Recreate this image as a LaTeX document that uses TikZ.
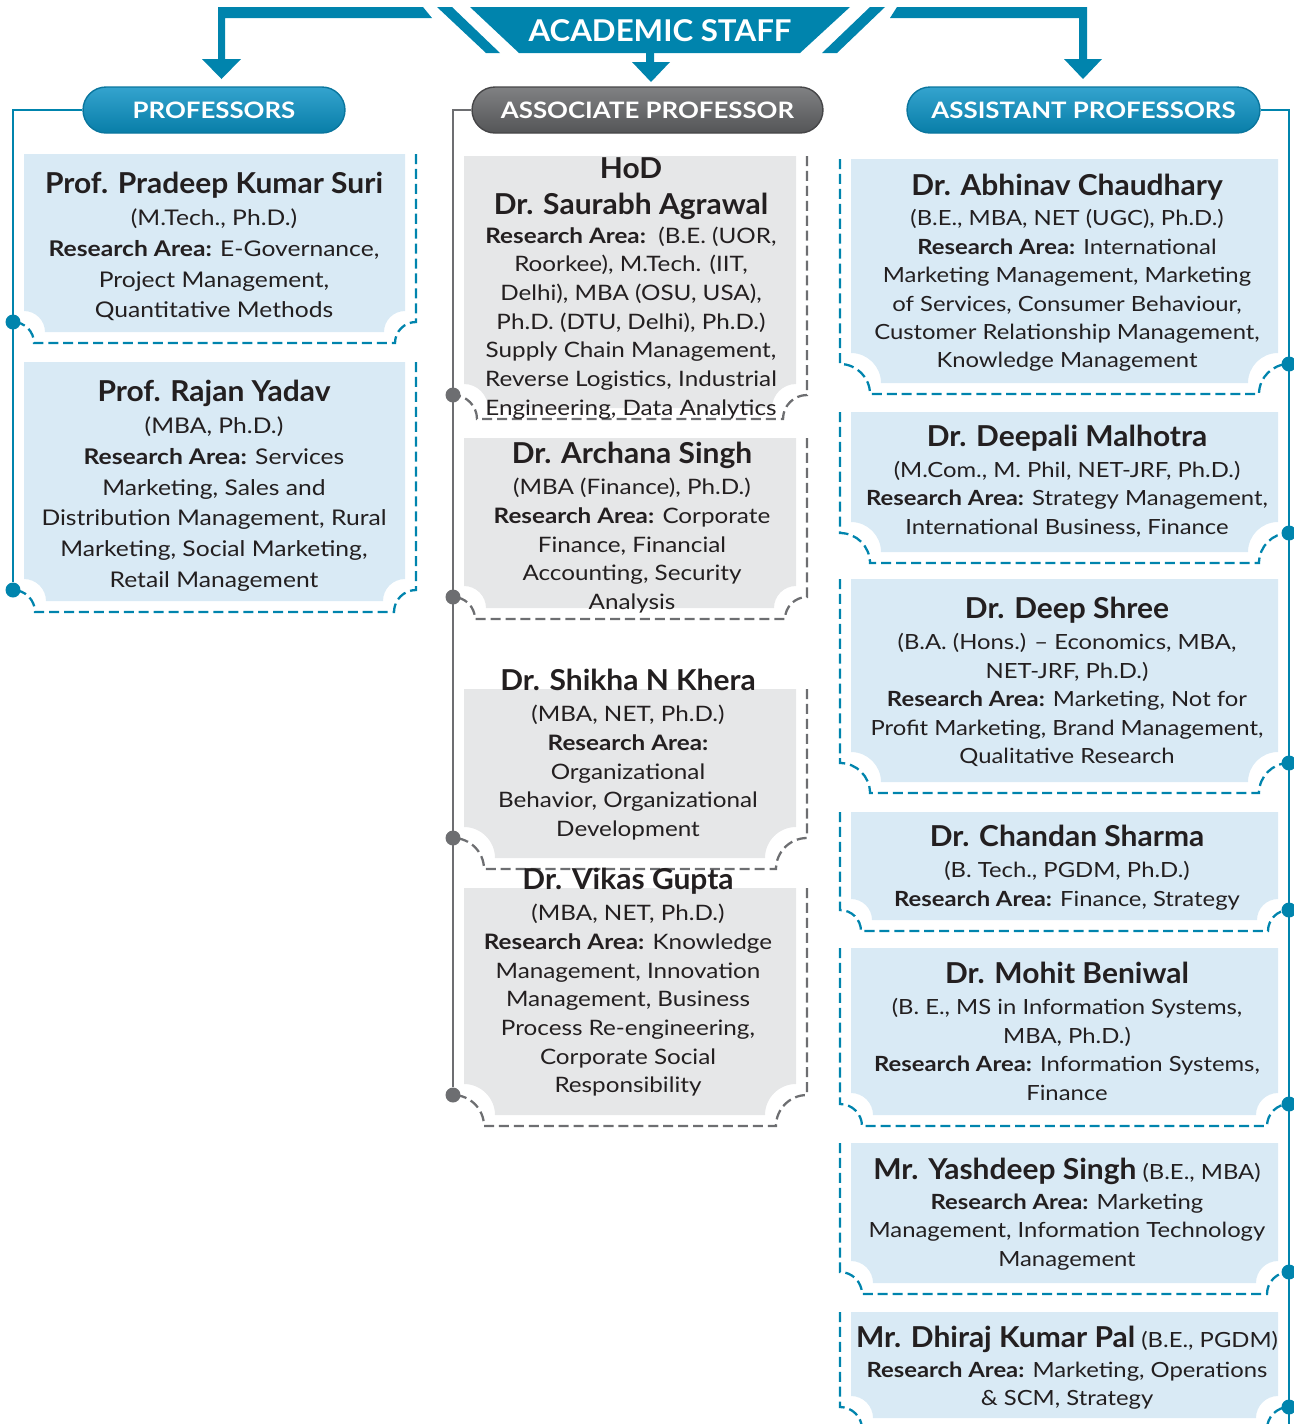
\documentclass[tikz,border=0pt]{standalone}
\usepackage{fontspec}
\setmainfont{Lato}[UprightFeatures={FakeStretch=1.14}, BoldFeatures={FakeStretch=1.14}]
\newfontfamily\namefam{Lato}[UprightFeatures={FakeStretch=1.04}, BoldFeatures={FakeStretch=1.04}]
\usetikzlibrary{positioning}

\definecolor{staffteal}{RGB}{0,132,173}
\definecolor{staffblue}{RGB}{217,234,245}
\definecolor{staffgrey}{RGB}{230,231,232}
\definecolor{staffdark}{RGB}{109,110,113}
\definecolor{stafftext}{RGB}{35,31,32}

\newcommand{\who}[1]{{\namefam\fontsize{16.4}{19}\selectfont\bfseries #1}}
\newcommand{\ra}{\textbf{Research Area:}}

% card background with the two round notches at the bottom
\newcommand{\cardbg}[5]{%
  \fill[cardfill] (#1,#2) -- (#3,#2) -- (#3,{#4-#5})
    .. controls ({#3-0.55*#5},{#4-#5}) and ({#3-#5},{#4-0.55*#5}) .. ({#3-#5},#4)
    -- ({#1+#5},#4)
    .. controls ({#1+#5},{#4-0.55*#5}) and ({#1+0.55*#5},{#4-#5}) .. (#1,{#4-#5}) -- cycle;
}
% card, dot on the left
\newcommand{\lcard}[6]{%
  \cardbg{#2}{#3}{#4}{#5}{#6}
  \draw[cardline] ({#4+11},#3) -- ({#4+11},{#5+11-#6})
    .. controls ({#4+11-0.55*#6},{#5+11-#6}) and ({#4+11-#6},{#5+11-0.55*#6}) .. ({#4+11-#6},{#5+11})
    -- ({#2-11+#6},{#5+11})
    .. controls ({#2-11+#6},{#5+11-0.55*#6}) and ({#2-11+0.55*#6},{#5+11-#6}) .. ({#2-11},{#5+11-#6});
  \node[knob] (#1) at ({#2-11},{#5+11-#6}) {};
}
% card, dot on the right
\newcommand{\rcard}[6]{%
  \cardbg{#2}{#3}{#4}{#5}{#6}
  \draw[cardline] ({#2-11},#3) -- ({#2-11},{#5+11-#6})
    .. controls ({#2-11+0.55*#6},{#5+11-#6}) and ({#2-11+#6},{#5+11-0.55*#6}) .. ({#2-11+#6},{#5+11})
    -- ({#4+11-#6},{#5+11})
    .. controls ({#4+11-#6},{#5+11-0.55*#6}) and ({#4+11-0.55*#6},{#5+11-#6}) .. ({#4+11},{#5+11-#6});
  \node[knob] (#1) at ({#4+11},{#5+11-#6}) {};
}

\tikzset{
  pill/.style={rounded corners=0.46cm, minimum height=0.92cm, inner sep=0pt,
    text=white, font=\fontsize{12.9}{14}\selectfont\bfseries, line width=0.8pt},
  bluepill/.style={pill, top color={rgb,255:red,52;green,163;blue,206},
    bottom color={rgb,255:red,8;green,126;blue,168}, draw={rgb,255:red,10;green,118;blue,158}},
  greypill/.style={pill, top color={rgb,255:red,128;green,129;blue,131},
    bottom color={rgb,255:red,84;green,85;blue,87}, draw={rgb,255:red,70;green,70;blue,72}},
  cardtxt/.style={anchor=north, align=center, inner sep=0pt, text=stafftext},
  leftcol/.style={font=\fontsize{12.3}{17.5}\selectfont},
  midcol/.style={font=\fontsize{12.1}{16.3}\selectfont},
  rightcol/.style={font=\fontsize{11.9}{16.2}\selectfont},
  knob/.style={circle, inner sep=0pt, minimum size=0.3cm},
  tealline/.style={draw=staffteal, line width=1.4pt},
  greyline/.style={draw=staffdark, line width=1.6pt},
}

\begin{document}
\begin{tikzpicture}[x=0.02cm, y=-0.02cm]
\useasboundingbox (0,0) rectangle (1294,1424);

% header banner
\begin{scope}[fill=staffteal]
  \fill (218,7) -- (423,7) -- (432,18) -- (225,18) -- (225,59) -- (241,59)
    -- (221.5,79) -- (202,59) -- (218,59) -- cycle;
  \fill (437,7) -- (452,7) -- (500,53) -- (486,53) -- cycle;
  \fill (470,7) -- (850,7) -- (800,53) -- (519,53) -- cycle;
  \fill (646,53) -- (654,53) -- (654,62) -- (670,62) -- (651,82) -- (632,62)
    -- (646,62) -- cycle;
  \fill (870,7) -- (885,7) -- (837,53) -- (822,53) -- cycle;
  \fill (897,7) -- (1087,7) -- (1087,59) -- (1102,59) -- (1083,79) -- (1064,59)
    -- (1079,59) -- (1079,18) -- (890,18) -- cycle;
\end{scope}
\node[font=\namefam\fontsize{17.1}{19}\selectfont\bfseries, text=white] (staff) at (660,31) {ACADEMIC STAFF};

% column heads
\node[bluepill, minimum width=5.24cm] (profs) at (214,110) {PROFESSORS};
\node[greypill, minimum width=7.02cm] (assoc) at (647.5,110) {ASSOCIATE PROFESSOR};
\node[bluepill, minimum width=7.06cm] (assts) at (1083.5,110) {ASSISTANT PROFESSORS};

% professors
\begin{scope}[cardfill/.style={fill=staffblue},
              cardline/.style={draw=staffteal, line width=1.3pt, dash pattern=on 5.7pt off 2.8pt},
              knob/.append style={fill=staffteal}]
  \lcard{pone}{24}{154}{405}{332}{21}
  \lcard{ptwo}{24}{362}{405}{601}{22}
\end{scope}
\draw[tealline] (profs.west) -| (ptwo);

% associate professors
\begin{scope}[cardfill/.style={fill=staffgrey},
              cardline/.style={draw=staffdark, line width=1.3pt, dash pattern=on 5.7pt off 2.8pt},
              knob/.append style={fill=staffdark}]
  \lcard{aone}{464}{156}{796}{408}{24}
  \lcard{atwo}{464}{438}{796}{608}{22}
  \lcard{athree}{464}{689}{796}{858}{31}
  \lcard{afour}{464}{888}{796}{1115}{31}
\end{scope}
\draw[greyline] (assoc.west) -| (afour);

% assistant professors
\begin{scope}[cardfill/.style={fill=staffblue},
              cardline/.style={draw=staffteal, line width=1.3pt, dash pattern=on 5.7pt off 2.8pt},
              knob/.append style={fill=staffteal}]
  \rcard{bone}{851}{159}{1278}{383}{30}
  \rcard{btwo}{851}{412}{1278}{552}{30}
  \rcard{bthree}{851}{579}{1278}{782}{30}
  \rcard{bfour}{851}{812}{1278}{920}{21}
  \rcard{bfive}{851}{948}{1278}{1115}{22}
  \rcard{bsix}{851}{1143}{1278}{1283}{22}
  \rcard{bseven}{851}{1312}{1278}{1418}{22}
\end{scope}
\coordinate (asstend) at (1289,1424);
\draw[tealline] (assts.east) -| (asstend);

% texts
\begin{scope}[every node/.style={cardtxt}]
  \node[leftcol] (suri) at (214,172) {\who{Prof. Pradeep Kumar Suri}\\[0.6pt]
    (M.Tech., Ph.D.)\\ \ra{} E-Governance,\\ Project Management,\\ Quantitative Methods};
  \node[leftcol] (yadav) at (214,380) {\who{Prof. Rajan Yadav}\\[0.6pt]
    (MBA, Ph.D.)\\ \ra{} Services\\ Marketing, Sales and\\ Distribution Management, Rural\\
    Marketing, Social Marketing,\\ Retail Management};

  \node[midcol] (agrawal) at (631,157) {\who{HoD}\\[4.2pt] \who{Dr. Saurabh Agrawal}\\[0.2pt]
    \ra~~(B.E. (UOR,\\ Roorkee), M.Tech. (IIT,\\ Delhi), MBA (OSU, USA),\\
    Ph.D. (DTU, Delhi), Ph.D.)\\ Supply Chain Management,\\ Reverse Logistics, Industrial\\
    Engineering, Data Analytics};
  \node[midcol] (singh) at (632,442) {\who{Dr. Archana Singh}\\[1.4pt]
    (MBA (Finance), Ph.D.)\\ \ra{} Corporate\\ Finance, Financial\\ Accounting, Security\\ Analysis};
  \node[midcol] (khera) at (628,669) {\who{Dr. Shikha N Khera}\\[1.4pt]
    (MBA, NET, Ph.D.)\\ \ra\\ Organizational\\ Behavior, Organizational\\ Development};
  \node[midcol] (gupta) at (628,868) {\who{Dr. Vikas Gupta}\\[1.4pt]
    (MBA, NET, Ph.D.)\\ \ra{} Knowledge\\ Management, Innovation\\ Management, Business\\
    Process Re-engineering,\\ Corporate Social\\ Responsibility};

  \node[rightcol] (chaudhary) at (1067,174) {\who{Dr. Abhinav Chaudhary}\\[0.8pt]
    (B.E., MBA, NET (UGC), Ph.D.)\\ \ra{} International\\ Marketing Management, Marketing\\
    of Services, Consumer Behaviour,\\ Customer Relationship Management,\\ Knowledge Management};
  \node[rightcol] (malhotra) at (1067,425) {\who{Dr. Deepali Malhotra}\\[1.2pt]
    (M.Com., M. Phil, NET-JRF, Ph.D.)\\ \ra{} Strategy Management,\\ International Business, Finance};
  \node[rightcol] (shree) at (1067,597) {\who{Dr. Deep Shree}\\[1.5pt]
    (B.A. (Hons.) -- Economics, MBA,\\ NET-JRF, Ph.D.)\\ \ra{} Marketing, Not for\\
    Profit Marketing, Brand Management,\\ Qualitative Research};
  \node[rightcol] (sharma) at (1067,825) {\who{Dr. Chandan Sharma}\\[1.5pt]
    (B. Tech., PGDM, Ph.D.)\\ \ra{} Finance, Strategy};
  \node[rightcol] (beniwal) at (1067,962) {\who{Dr. Mohit Beniwal}\\[1.5pt]
    (B. E., MS in Information Systems,\\ MBA, Ph.D.)\\ \ra{} Information Systems,\\ Finance};
  \node[rightcol] (yashdeep) at (1067,1158) {\who{Mr. Yashdeep Singh} (B.E., MBA)\\[0.6pt]
    \ra{} Marketing\\ Management, Information Technology\\ Management};
  \node[rightcol] (pal) at (1067,1326) {\who{Mr. Dhiraj Kumar Pal} (B.E., PGDM)\\[0.6pt]
    \ra{} Marketing, Operations\\ \& SCM, Strategy};
\end{scope}
\end{tikzpicture}
\end{document}
